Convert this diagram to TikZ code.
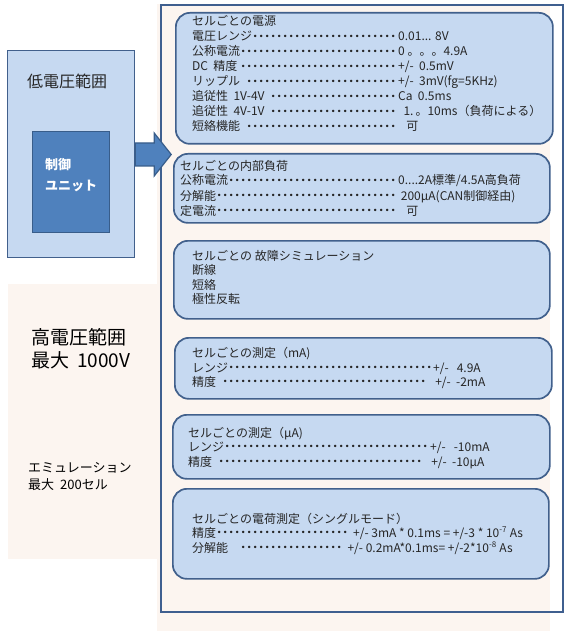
\documentclass[tikz,border=0pt]{standalone}
\usepackage{fontspec}
\setmainfont{Noto Sans CJK JP}
\usepackage{tikz}
\usetikzlibrary{positioning}
\definecolor{panelline}{HTML}{3F5F8F}
\definecolor{cellfill}{HTML}{C6D9F1}
\definecolor{cellline}{HTML}{41608C}
\definecolor{ctrlfill}{HTML}{4F81BD}
\definecolor{ctrlline}{HTML}{385D8A}
\definecolor{hvbg}{HTML}{FCF5F0}
\definecolor{txt}{HTML}{262626}

\newcommand\dotlead{\leaders\hbox to 6pt{\hss\raisebox{3.2pt}{\fontsize{2.8}{3}\selectfont ●}\hss}\hfill}
\newcommand\lrow[3]{\makebox[#1][l]{#2\dotlead}#3}

\begin{document}
\begin{tikzpicture}[x=1pt, y=-1pt,
    every node/.style={font=\fontsize{12}{14}\selectfont, text=txt},
    cell/.style={draw=cellline, line width=1.7pt, fill=cellfill, rounded corners=14pt, anchor=north west, inner sep=0pt},
    row/.style={anchor=base west, inner sep=0pt}]
    \useasboundingbox (0,0) rectangle (565,631);

    % Hintergruende
    \fill[hvbg] (157,4) rectangle (550,631);
    \fill[hvbg] (8,284) rectangle (157,559);
    \node[draw=panelline, line width=1.6pt, anchor=north west, minimum width=402pt, minimum height=607pt, inner sep=0pt] (panel) at (160,4) {};

    % Niederspannung
    \node[draw=cellline, line width=1.2pt, fill=cellfill, anchor=north west, minimum width=127pt, minimum height=207pt, inner sep=0pt] (lowv) at (7,50) {};
    \node[row, font=\fontsize{16}{18}\selectfont] (lvtitle) at (27,88) {低電圧範囲};
    \node[draw=ctrlline, line width=1.2pt, fill=ctrlfill, anchor=north west, minimum width=77pt, minimum height=101pt, inner sep=0pt] (ctrl) at (32,131) {};
    \node[row, text=white, font=\fontsize{13}{15}\selectfont\bfseries] (ctrl1) at (45,170) {制御};
    \node[row, text=white, font=\fontsize{13}{15}\selectfont\bfseries] (ctrl2) at (45,190) {ユニット};
    \coordinate (ar) at (lowv.east |- 0,143);
    \filldraw[fill=ctrlfill, draw=ctrlline, line width=1.2pt] (ar) -- ++(19,0) -- ++(0,-10) -- ++(17,21.5) -- ++(-17,21.5) -- ++(0,-10) -- ++(-19,0) -- cycle;

    % Hochspannung
    \node[row, text=black, font=\fontsize{19}{21}\selectfont] (hv1) at (31,344) {高電圧範囲};
    \node[row, text=black, font=\fontsize{19}{21}\selectfont] (hv2) at (31,367) {最大\hspace{8pt}1000V};
    \node[row, text=black, font=\fontsize{13}{15}\selectfont] (em1) at (28,472) {エミュレーション};
    \node[row, text=black, font=\fontsize{13}{15}\selectfont] (em2) at (28,489) {最大\hspace{6pt}200セル};

    % Zellen-Kaesten
    \node[cell, minimum width=377pt, minimum height=131pt] (psu) at (175,12) {};
    \node[cell, minimum width=376pt, minimum height=69pt] (load) at (173,153) {};
    \node[cell, minimum width=376pt, minimum height=78pt] (fault) at (173,240) {};
    \node[cell, minimum width=377pt, minimum height=61pt] (meas) at (174,337) {};
    \node[cell, minimum width=377pt, minimum height=64pt] (umeas) at (172,414) {};
    \node[cell, minimum width=376pt, minimum height=90pt] (charge) at (172,488) {};

    % Stromversorgung
    \node[row] (psu0) at (192,26) {セルごとの電源};
    \node[row] (psu1) at (192,41) {\lrow{206pt}{電圧レンジ}{0.01... 8V}};
    \node[row] (psu2) at (192,56) {\lrow{206pt}{公称電流}{0\ 。。。4.9A}};
    \node[row] (psu3) at (192,71) {\lrow{206pt}{DC\ \ 精度}{+/-\ \ 0.5mV}};
    \node[row] (psu4) at (192,86) {\lrow{206pt}{リップル\ \ }{+/-\ \ 3mV(fg=5KHz)}};
    \node[row] (psu5) at (192,101) {\lrow{206pt}{追従性\ \ 1V-4V\ \ }{Ca\ \ 0.5ms}};
    \node[row] (psu6) at (192,116) {\lrow{206pt}{追従性\ \ 4V-1V\ \ }{\ \ 1.\,。10ms（負荷による）}};
    \node[row] (psu7) at (192,131) {\lrow{206pt}{短絡機能\ \ }{\ \ \ 可}};

    % Interne Last
    \node[row] (load0) at (180,171) {セルごとの内部負荷};
    \node[row] (load1) at (180,185) {\lrow{218pt}{公称電流}{0....2A標準/4.5A高負荷}};
    \node[row] (load2) at (180,200) {\lrow{218pt}{分解能}{\ 200µA(CAN制御経由)}};
    \node[row] (load3) at (180,215) {\lrow{218pt}{定電流}{\ \ \ 可}};

    % Fehlersimulation
    \node[row] (fault0) at (192,260) {セルごとの\ 故障シミュレーション};
    \node[row] (fault1) at (192,274) {断線};
    \node[row] (fault2) at (192,289) {短絡};
    \node[row] (fault3) at (192,303) {極性反転};

    % Messung mA
    \node[row] (ma0) at (192,357) {セルごとの測定（mA)};
    \node[row] (ma1) at (192,372) {\lrow{241pt}{レンジ}{+/-\ \ \ 4.9A}};
    \node[row] (ma2) at (192,386) {\lrow{235pt}{精度\ \ }{\ \ \ +/-\ \ -2mA}};

    % Messung uA
    \node[row] (ua0) at (188,437) {セルごとの測定（µA)};
    \node[row] (ua1) at (188,451) {\lrow{242pt}{レンジ}{+/-\ \ \ -10mA}};
    \node[row] (ua2) at (188,466) {\lrow{235pt}{精度\ \ }{\ \ \ +/-\ \ -10µA}};

    % Ladungsmessung
    \node[row] (chg0) at (192,523) {セルごとの電荷測定（シングルモード）};
    \node[row] (chg1) at (192,537) {\lrow{161pt}{精度}{+/- 3mA * 0.1ms = +/-3 * 10\textsuperscript{-7} As}};
    \node[row] (chg2) at (192,552) {\lrow{150pt}{分解能\hspace{12pt}}{\ \ +/- 0.2mA*0.1ms= +/-2*10\textsuperscript{-8} As}};
\end{tikzpicture}
\end{document}
